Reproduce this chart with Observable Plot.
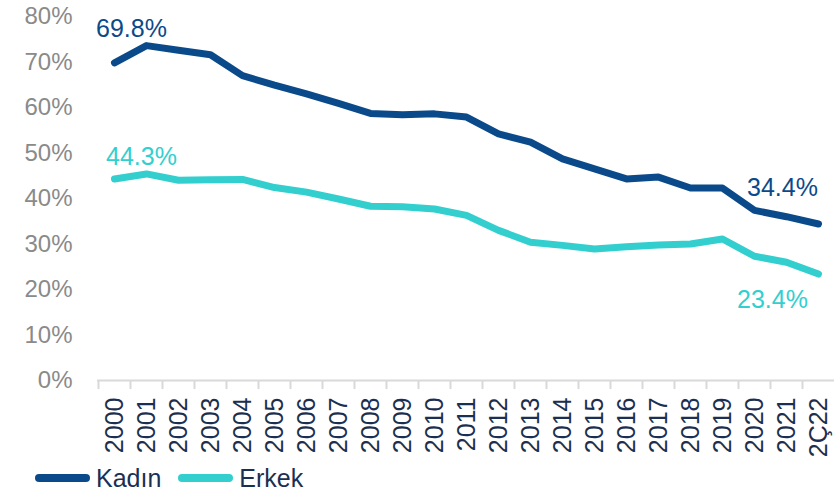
<!DOCTYPE html>
<html>
<head>
<meta charset="utf-8">
<script src="https://cdn.jsdelivr.net/npm/d3@7"></script>
<script src="https://cdn.jsdelivr.net/npm/@observablehq/plot@0.6"></script>
<style>
  html, body { margin: 0; padding: 0; background: #fff; }
  body { width: 840px; height: 501px; overflow: hidden; font-family: "Liberation Sans", Arial, sans-serif; }
  #chart svg { overflow: visible; display: block; }
  #legend { display: flex; align-items: center; height: 46px; padding-left: 35px; box-sizing: border-box; }
  .item { display: flex; align-items: center; margin-right: 17px; }
  .sw { width: 55px; height: 8px; border-radius: 4px; margin-right: 6px; }
  .lab { font-size: 25px; color: #1b2f52; line-height: 1; }
</style>
</head>
<body>
<div id="chart"></div>
<div id="legend"></div>
<script>
const categories = ["2000","2001","2002","2003","2004","2005","2006","2007","2008","2009","2010","2011","2012","2013","2014","2015","2016","2017","2018","2019","2020","2021","2Ç22"];
const kadin = [69.8,73.6,72.6,71.6,67.0,64.9,63.0,60.9,58.7,58.4,58.6,57.9,54.2,52.4,48.7,46.5,44.3,44.7,42.3,42.3,37.4,36.0,34.4];
const erkek = [44.3,45.4,44.0,44.1,44.2,42.4,41.4,39.9,38.3,38.2,37.7,36.3,33.0,30.4,29.7,28.9,29.4,29.8,30.0,31.1,27.3,26.0,23.4];
const seriesNames = ["Kadın","Erkek"];
const seriesColors = ["#0b4a8a","#33cfcf"];
const yTicks = [0,10,20,30,40,50,60,70,80];

const rows = [];
categories.forEach((c, i) => {
  rows.push({cat: c, series: "Kadın", value: kadin[i]});
  rows.push({cat: c, series: "Erkek", value: erkek[i]});
});
const first = categories[0], last = categories[categories.length - 1];
const pick = (s, c) => rows.filter(d => d.series === s && d.cat === c);
const fmt = d => d.value.toFixed(1) + "%";

const chart = Plot.plot({
  width: 840,
  height: 455,
  marginLeft: 97,
  marginRight: 6,
  marginTop: 16,
  marginBottom: 75,
  style: {fontFamily: "'Liberation Sans', Arial, sans-serif", background: "#fff", overflow: "visible"},
  x: {type: "point", domain: categories, padding: 0.5, axis: null, label: null},
  y: {domain: [0, 80], axis: null, label: null},
  color: {domain: seriesNames, range: seriesColors},
  marks: [
    Plot.axisY({ticks: yTicks, tickFormat: d => d + "%", tickSize: 0, tickPadding: 25, fontSize: 24, fill: "#8a8a8a", label: null}),
    Plot.ruleY([0], {stroke: "#d9d9d9", strokeWidth: 2}),
    Plot.axisX({ticks: categories, tickSize: 9, tickFormat: () => "", dx: -16, stroke: "#d9d9d9", strokeWidth: 2, label: null}),
    Plot.axisX({ticks: categories, tickSize: 0, tickPadding: 17, tickRotate: -90, fontSize: 25, fill: "#1b2f52", label: null}),
    Plot.line(rows, {x: "cat", y: "value", z: "series", stroke: "series", strokeWidth: 7, strokeLinecap: "round", strokeLinejoin: "round"}),
    Plot.text(pick("Kadın", first), {x: "cat", y: "value", text: fmt, fill: seriesColors[0], fontSize: 25, dx: 17, dy: -34}),
    Plot.text(pick("Erkek", first), {x: "cat", y: "value", text: fmt, fill: seriesColors[1], fontSize: 25, dx: 27, dy: -22}),
    Plot.text(pick("Kadın", last), {x: "cat", y: "value", text: fmt, fill: seriesColors[0], fontSize: 25, dx: -36, dy: -36}),
    Plot.text(pick("Erkek", last), {x: "cat", y: "value", text: fmt, fill: seriesColors[1], fontSize: 25, dx: -46, dy: 26})
  ]
});
document.getElementById("chart").appendChild(chart);

const legend = document.getElementById("legend");
seriesNames.forEach((n, i) => {
  const item = document.createElement("div");
  item.className = "item";
  const sw = document.createElement("div");
  sw.className = "sw";
  sw.style.background = seriesColors[i];
  const lab = document.createElement("span");
  lab.className = "lab";
  lab.textContent = n;
  item.appendChild(sw);
  item.appendChild(lab);
  legend.appendChild(item);
});
</script>
</body>
</html>
